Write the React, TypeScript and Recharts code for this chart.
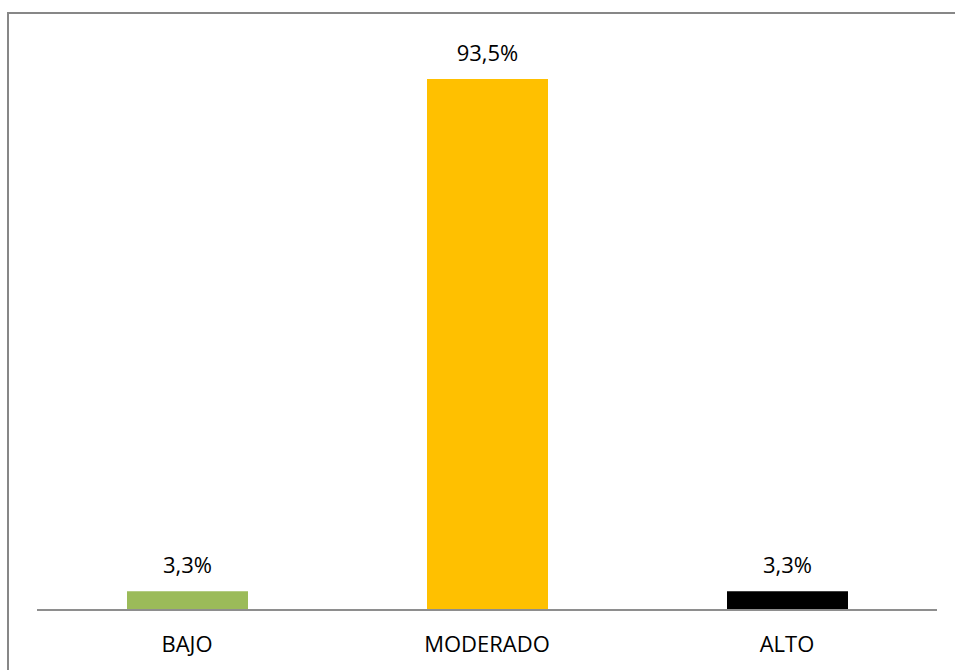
import React from 'react';
import { BarChart, Bar, XAxis, YAxis, Cell, LabelList } from 'recharts';

const categories = ['BAJO', 'MODERADO', 'ALTO'];
const values = [3.3, 93.5, 3.3];
const colors = ['#9BBB59', '#FFC000', '#000000'];

const data = categories.map((name, i) => ({ name, value: values[i] }));

const fmt = (v: any) => `${Number(v).toFixed(1).replace('.', ',')}%`;

const FONT = '"Open Sans", sans-serif';

export default function App() {
  return (
    <div style={{ position: 'relative', width: 955, height: 670, background: '#fff' }}>
      <style>{`html,body{margin:0;padding:0;overflow:hidden;}`}</style>
      <svg width={955} height={670} style={{ position: 'absolute', left: 0, top: 0 }}>
        <path d="M8 670 L8 13 L955 13" fill="none" stroke="#878787" strokeWidth={2} />
      </svg>
      <BarChart
        width={955}
        height={670}
        data={data}
        margin={{ top: 42, right: 18, bottom: 30, left: 37 }}
        style={{ position: 'absolute', left: 0, top: 0 }}
      >
        <YAxis hide domain={[0, 100]} />
        <XAxis
          dataKey="name"
          height={30}
          axisLine={{ stroke: '#8e8e8e', strokeWidth: 2 }}
          tickLine={false}
          tickSize={0}
          tickMargin={26}
          tick={{ fill: '#000', fontSize: 22, fontFamily: FONT }}
        />
        <Bar dataKey="value" barSize={121} isAnimationActive={false}>
          {data.map((d, i) => (
            <Cell key={d.name} fill={colors[i]} />
          ))}
          <LabelList
            dataKey="value"
            position="top"
            offset={18}
            formatter={fmt}
            style={{ fill: '#000', fontSize: 22, fontFamily: FONT }}
          />
        </Bar>
      </BarChart>
    </div>
  );
}
